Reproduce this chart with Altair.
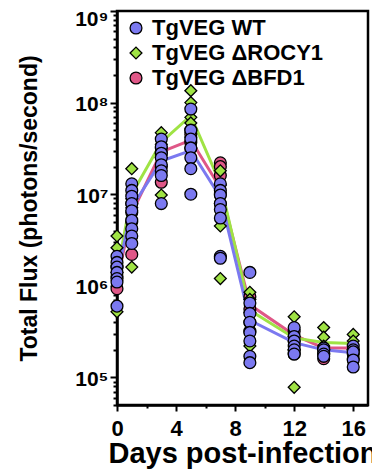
import altair as alt
import pandas as pd

days = [0, 1, 3, 5, 7, 9, 12, 14, 16]
groups = ["TgVEG WT", "TgVEG ΔROCY1", "TgVEG ΔBFD1"]
colors = ["#7b79f0", "#9fe344", "#df5787"]
shapes = ["circle", "diamond", "circle"]

# individual mice, one list per day
wt_flux = [
    [2.1e6, 1.8e6, 1.6e6, 1.4e6, 1.2e6, 1.1e6, 6.0e5],
    [1.3e7, 1.1e7, 9.5e6, 7.9e6, 6.6e6, 5.2e6, 4.2e6, 3.5e6, 2.9e6],
    [4.0e7, 3.3e7, 2.8e7, 2.5e7, 2.1e7, 1.8e7, 1.6e7, 7.9e6],
    [8.5e7, 5.0e7, 4.0e7, 3.2e7, 2.5e7, 1.9e7, 1.0e7],
    [1.3e7, 1.1e7, 9.8e6, 7.9e6, 6.8e6, 5.5e6, 2.1e6, 2.0e6],
    [1.4e6, 6.5e5, 5.0e5, 4.0e5, 3.1e5, 2.5e5, 1.7e5, 1.45e5],
    [3.5e5, 2.8e5, 2.5e5, 2.2e5, 2.0e5, 1.8e5],
    [2.1e5, 2.0e5, 1.8e5, 1.7e5],
    [2.2e5, 2.0e5, 1.9e5, 1.55e5, 1.3e5],
]
rocy1_flux = [
    [3.5e6, 2.6e6, 1.4e6, 5.2e5],
    [1.9e7, 8.9e6, 7.1e6, 1.6e6],
    [4.7e7, 3.5e7, 2.5e7, 9.8e6],
    [1.35e8, 1.0e8, 6.9e7, 6.0e7, 4.2e7],
    [1.8e7, 1.26e7, 4.5e6, 1.2e6],
    [8.5e5, 7.1e5, 5.1e5, 2.2e5],
    [4.6e5, 2.8e5, 2.0e5, 7.8e4],
    [3.5e5, 2.75e5, 2.2e5, 2.0e5],
    [2.95e5, 2.5e5, 2.0e5],
]
bfd1_flux = [
    [1.6e6, 1.26e6, 9.3e5],
    [7.9e6, 6.3e6, 5.0e6, 2.2e6],
    [3.2e7, 2.8e7, 2.0e7, 1.35e7],
    [5.0e7, 4.5e7, 3.7e7, 3.2e7],
    [2.2e7, 2.0e7, 1.6e7, 1.0e7, 7.9e6],
    [7.6e5, 5.6e5, 4.0e5, 3.2e5],
    [3.2e5, 2.5e5, 2.0e5, 1.8e5],
    [2.0e5, 1.8e5, 1.6e5],
    [2.0e5, 1.8e5, 1.6e5],
]
# group means (connecting lines)
wt_mean = [1.26e6, 7.2e6, 2.3e7, 3.0e7, 9.3e6, 4.2e5, 2.4e5, 2.0e5, 1.86e5]
rocy1_mean = [1.4e6, 1.0e7, 3.7e7, 7.2e7, 1.3e7, 5.4e5, 2.7e5, 2.4e5, 2.35e5]
bfd1_mean = [1.12e6, 6.2e6, 2.9e7, 3.9e7, 1.17e7, 6.2e5, 2.9e5, 2.1e5, 2.1e5]

x_ticks = [0, 2, 4, 6, 8, 10, 12, 14, 16]
y_decades = [1e4, 1e5, 1e6, 1e7, 1e8, 1e9]
y_ticks = [m * d for d in y_decades for m in range(1, 10) if 5e4 <= m * d <= 1e9]

color_of = dict(zip(groups, colors))

pts = []
for g, flux in [(groups[2], bfd1_flux), (groups[1], rocy1_flux), (groups[0], wt_flux)]:
    for d, vals in zip(days, flux):
        for v in vals:
            pts.append({"group": g, "day": d, "flux": v})
pts = pd.DataFrame(pts)

means = []
for g, m in [(groups[2], bfd1_mean), (groups[1], rocy1_mean), (groups[0], wt_mean)]:
    for d, v in zip(days, m):
        means.append({"group": g, "line_color": color_of[g], "day": d, "flux": v})
means = pd.DataFrame(means)

FONT = "Liberation Sans"
is_dec = "abs(log(datum.value)/LN10 - round(log(datum.value)/LN10)) < 0.001"
sup = "['⁰','¹','²','³','⁴','⁵','⁶','⁷','⁸','⁹'][round(log(datum.value)/LN10)]"

x_enc = alt.X(
    "day:Q",
    scale=alt.Scale(domain=[0, 17], nice=False, zero=False),
    axis=alt.Axis(
        values=x_ticks,
        labelExpr="datum.value % 4 == 0 ? datum.label : ''",
        tickSize={"condition": {"test": "datum.value % 4 == 0", "value": 6}, "value": 3},
        title="Days post-infection",
        titleFontSize=29,
        titlePadding=0,
        labelFontSize=22,
        labelPadding=7,
        labelFlush=False,
        labelOverlap=False,
    ),
)
y_enc = alt.Y(
    "flux:Q",
    scale=alt.Scale(type="log", domain=[5e4, 1e9], nice=False),
    axis=alt.Axis(
        values=y_ticks,
        labelExpr=f"{is_dec} ? '10' + {sup} : ''",
        tickSize={"condition": {"test": is_dec, "value": 7}, "value": 4},
        labelOffset={"condition": {"test": "datum.value > 5e8", "value": 8}, "value": 2},
        title="Total Flux (photons/second)",
        titleFontSize=23,
        titlePadding=33,
        labelFontSize=21,
        labelPadding=2,
        labelOverlap=False,
        labelFlush=False,
    ),
)

lines = alt.Chart(means).mark_line(strokeWidth=3).encode(
    x=x_enc,
    y=y_enc,
    stroke=alt.Stroke("line_color:N", scale=None),
    detail="group:N",
)

legend = alt.Legend(
    title=None,
    orient="none",
    legendX=8,
    legendY=6,
    padding=0,
    labelFont=FONT,
    labelFontSize=22,
    labelFontWeight="bold",
    labelColor="black",
    labelOffset=5,
    rowPadding=3,
    symbolSize=140,
    symbolStrokeColor="black",
    symbolStrokeWidth=1.3,
    labelLimit=300,
)

points = alt.Chart(pts).mark_point(
    filled=True, size=140, stroke="black", strokeWidth=1.3, opacity=1
).encode(
    x=x_enc,
    y=y_enc,
    color=alt.Color("group:N", scale=alt.Scale(domain=groups, range=colors), legend=legend),
    shape=alt.Shape("group:N", scale=alt.Scale(domain=groups, range=shapes), legend=legend),
)

chart = (
    alt.layer(lines, points)
    .properties(
        width=251,
        height=394,
        padding={"left": 109, "top": 3, "right": 4, "bottom": 64},
        autosize=alt.AutoSizeParams(type="none"),
    )
    .configure_view(stroke="black", strokeWidth=2.5)
    .configure_axis(
        domainColor="black",
        domainWidth=2.5,
        tickColor="black",
        tickWidth=2,
        grid=False,
        labelFont=FONT,
        labelFontWeight="bold",
        labelColor="black",
        titleFont=FONT,
        titleFontWeight="bold",
        titleColor="black",
    )
)

chart.save("out.html", embed_options={"renderer": "svg", "actions": False})
